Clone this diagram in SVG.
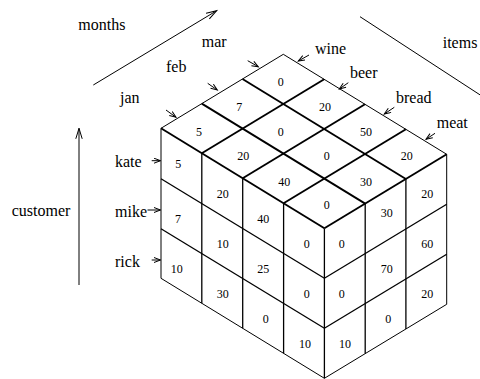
<svg xmlns="http://www.w3.org/2000/svg" width="480" height="379" viewBox="0 0 480 379">
<defs>
<marker id="ah" markerUnits="userSpaceOnUse" markerWidth="10" markerHeight="8" refX="7" refY="3" orient="auto">
<path d="M0.5,0.5 L7,3 L0.5,5.5" fill="none" stroke="#000" stroke-width="1"/>
</marker>
<marker id="ahl" markerUnits="userSpaceOnUse" markerWidth="14" markerHeight="10" refX="11" refY="4" orient="auto">
<path d="M0.5,0.8 L11,4 L0.5,7.2" fill="none" stroke="#000" stroke-width="1"/>
</marker>
</defs>
<style>
.lbl{font-family:"Liberation Serif","Times New Roman",serif;font-size:16px;fill:#000}
.num{font-family:"Liberation Serif","Times New Roman",serif;font-size:12px;fill:#000;text-anchor:middle}
.thin{stroke:#000;stroke-width:1;fill:none}
.mid{stroke:#000;stroke-width:1.3;fill:none}
.thk{stroke:#000;stroke-width:1.9;fill:none}
.arr{stroke:#000;stroke-width:1;fill:none;marker-end:url(#ah)}
.arrl{stroke:#000;stroke-width:1;fill:none;marker-end:url(#ahl)}
</style>
<rect width="480" height="379" fill="#fff"/>

<g id="connectors">
<line class="arrl" x1="93.3" y1="85" x2="216.7" y2="10.7"/>
<line class="arrl" x1="79" y1="285" x2="79" y2="128.3"/>
<line class="thin" x1="360" y1="16.7" x2="481" y2="95.5"/>
<line class="arr" x1="166" y1="110" x2="176" y2="117.3"/>
<line class="arr" x1="207.7" y1="83.3" x2="217.3" y2="90"/>
<line class="arr" x1="247.7" y1="60.7" x2="258.3" y2="66.7"/>
<line class="arr" x1="309" y1="55" x2="298.3" y2="61"/>
<line class="arr" x1="348.3" y1="82.7" x2="339.3" y2="89"/>
<line class="arr" x1="394.3" y1="107.3" x2="384.3" y2="114"/>
<line class="arr" x1="435" y1="133.3" x2="426" y2="139.3"/>
<line class="arr" x1="151.7" y1="160.7" x2="160.5" y2="160.7"/>
<line class="arr" x1="147.5" y1="210" x2="160.5" y2="210"/>
<line class="arr" x1="151.7" y1="260" x2="160.5" y2="260"/>
</g>

<g id="axis-labels">
<text class="lbl" x="78.3" y="29.5">months</text>
<text class="lbl" x="442.7" y="47.7">items</text>
<text class="lbl" x="11.7" y="216">customer</text>
</g>

<g id="month-labels">
<text class="lbl" x="201.7" y="46.7">mar</text>
<text class="lbl" x="166" y="71.7">feb</text>
<text class="lbl" x="120" y="102.7">jan</text>
</g>

<g id="item-labels">
<text class="lbl" x="315" y="54.3">wine</text>
<text class="lbl" x="350" y="78.3">beer</text>
<text class="lbl" x="396" y="103.3">bread</text>
<text class="lbl" x="436.7" y="128.3">meat</text>
</g>

<g id="customer-labels">
<text class="lbl" x="115" y="167">kate</text>
<text class="lbl" x="115" y="216.5">mike</text>
<text class="lbl" x="115" y="266.5">rick</text>
</g>

<g id="top-face">
<line class="thin" x1="283.3" y1="54.3" x2="446.7" y2="154.3"/>
<line class="thin" x1="283.3" y1="54.3" x2="161" y2="128.3"/>
<line class="thk" x1="242.5" y1="79" x2="405.9" y2="179"/>
<line class="thk" x1="201.8" y1="103.6" x2="365.2" y2="203.6"/>
<line class="thk" x1="161" y1="128.3" x2="324.4" y2="228.3"/>
<line class="thk" x1="324.2" y1="79.3" x2="201.8" y2="153.3"/>
<line class="thk" x1="365" y1="104.3" x2="242.7" y2="178.3"/>
<line class="thk" x1="405.9" y1="129.3" x2="283.6" y2="203.3"/>
<line class="thk" x1="446.7" y1="154.3" x2="324.4" y2="228.3"/>
<text class="num" x="280.7" y="86">0</text>
<text class="num" x="239.3" y="111">7</text>
<text class="num" x="199" y="135.5">5</text>
<text class="num" x="325" y="111">20</text>
<text class="num" x="280.7" y="136">0</text>
<text class="num" x="243.3" y="160.3">20</text>
<text class="num" x="366" y="135.5">50</text>
<text class="num" x="326.7" y="160.3">0</text>
<text class="num" x="284.3" y="185.5">40</text>
<text class="num" x="406.7" y="160.3">20</text>
<text class="num" x="366" y="186">30</text>
<text class="num" x="326.7" y="209.3">0</text>
</g>

<g id="left-face">
<line class="thin" x1="161" y1="128.3" x2="161" y2="278.3"/>
<line class="mid" x1="201.8" y1="153.3" x2="201.8" y2="303.3"/>
<line class="mid" x1="242.7" y1="178.3" x2="242.7" y2="328.3"/>
<line class="mid" x1="283.6" y1="203.3" x2="283.6" y2="353.3"/>
<line class="mid" x1="324.4" y1="228.3" x2="324.4" y2="378.3"/>
<line class="mid" x1="161" y1="178.8" x2="324.4" y2="278.3"/>
<line class="mid" x1="161" y1="228.8" x2="324.4" y2="328.3"/>
<line class="thin" x1="161" y1="278.3" x2="324.4" y2="378.3"/>
<text class="num" x="178.3" y="167.6">5</text>
<text class="num" x="178" y="223.3">7</text>
<text class="num" x="176.7" y="272.6">10</text>
<text class="num" x="222.7" y="197.6">20</text>
<text class="num" x="222.7" y="247.6">10</text>
<text class="num" x="222.7" y="297.6">30</text>
<text class="num" x="263.3" y="222.6">40</text>
<text class="num" x="263.3" y="272.6">25</text>
<text class="num" x="265.7" y="322.6">0</text>
<text class="num" x="306.7" y="247.6">0</text>
<text class="num" x="306.7" y="297.6">0</text>
<text class="num" x="305" y="347.6">10</text>
</g>

<g id="right-face">
<line class="mid" x1="365.2" y1="203.6" x2="365.2" y2="353.6"/>
<line class="mid" x1="405.9" y1="179" x2="405.9" y2="329"/>
<line class="thin" x1="446.7" y1="154.3" x2="446.7" y2="304.3"/>
<line class="mid" x1="324.4" y1="278.3" x2="446.7" y2="204.3"/>
<line class="mid" x1="324.4" y1="328.3" x2="446.7" y2="254.3"/>
<line class="thin" x1="324.4" y1="378.3" x2="446.7" y2="304.3"/>
<text class="num" x="341.7" y="247.6">0</text>
<text class="num" x="341.7" y="297.6">0</text>
<text class="num" x="345" y="347.6">10</text>
<text class="num" x="386.7" y="217">30</text>
<text class="num" x="386.7" y="272.6">70</text>
<text class="num" x="388.3" y="322.6">0</text>
<text class="num" x="427.3" y="197.6">20</text>
<text class="num" x="427.3" y="247.6">60</text>
<text class="num" x="427.3" y="297.6">20</text>
</g>
</svg>
